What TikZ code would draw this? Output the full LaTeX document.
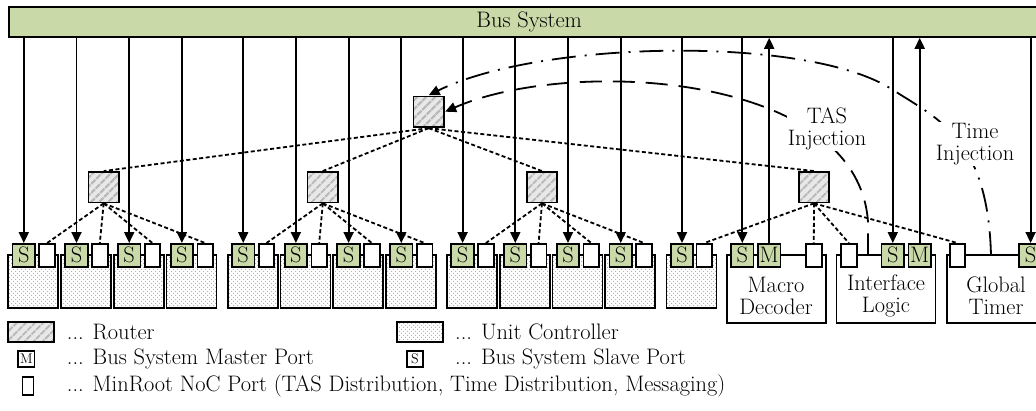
\documentclass[tikz,border=0pt]{standalone}
\usepackage{fontspec}
\usetikzlibrary{arrows.meta,patterns,patterns.meta}
\definecolor{busgreen}{RGB}{201,218,168}

\begin{document}
\begin{tikzpicture}[x=1pt,y=-1pt,
  every node/.style={font=\fontsize{22.4}{21.5}\selectfont},
  ln/.style={line width=1.8pt},
  busbar/.style={ln, draw, fill=busgreen, inner sep=0pt},
  sport/.style={ln, draw, fill=busgreen, minimum width=22.5pt, minimum height=22.7pt, inner sep=0pt},
  nport/.style={ln, draw, fill=white, minimum width=15.6pt, minimum height=22.7pt, inner sep=0pt},
  ucbody/.style={ln, draw, preaction={fill=white},
    preaction={pattern={Dots[distance=4pt,radius=0.75pt,xshift=2pt,yshift=2pt]}, pattern color=gray!65},
    pattern={Dots[distance=4pt,radius=0.75pt]}, pattern color=gray!65, inner sep=0pt},
  spbody/.style={ln, draw, fill=white, minimum width=99pt, minimum height=68pt, inner sep=0pt},
  router/.style={ln, draw, preaction={fill=gray!18},
    pattern={Lines[angle=45,distance=6.5pt,line width=2.4pt]}, pattern color=gray!55,
    inner sep=0pt},
  arr/.style={ln, -{Triangle[length=11pt,width=10pt]}},
  noc/.style={ln, dash pattern=on 4pt off 2.5pt},
  tasline/.style={ln, dash pattern=on 22pt off 11pt, -{Triangle[length=11pt,width=10pt]}},
  timeline/.style={ln, dash pattern=on 24pt off 9pt on 2pt off 9pt, -{Triangle[length=11pt,width=10pt]}},
  lbl/.style={fill=white, inner sep=1pt, align=center},
  legtext/.style={anchor=west, inner sep=0pt},
  legbox/.style={ln, draw, fill=white, inner sep=0pt, font=\fontsize{14}{14}\selectfont}
]
\useasboundingbox (0,0) rectangle (1036,411);
\clip (0,0) rectangle (1036,411);

% bus system bar
\node[busbar, anchor=north west, minimum width=1040pt, minimum height=30pt] (bus) at (8.3,6) {Bus System};

% routers
\node[router, minimum size=30.5pt] (R0) at (428.7,111.7) {};
\node[router, minimum size=30.5pt] (R1) at (103.7,187.2) {};
\node[router, minimum size=30.5pt] (R2) at (322.8,187.2) {};
\node[router, minimum size=30.5pt] (R3) at (542.0,187.2) {};
\node[router, minimum size=30.5pt] (R4) at (814.0,187.2) {};

% unit controllers: three groups of four, one single unit
\foreach \g in {0,1,2} {
  \foreach \u in {0,1,2,3} {
    \pgfmathsetmacro\xo{8.3+219.4*\g+52.7*\u}
    \node[ucbody, minimum width=50pt, minimum height=52.7pt] (U\g\u) at (\xo+25,281.65) {};
    \node[sport] (S\g\u) at (\xo+15.5,255.3) {S};
    \node[nport] (P\g\u) at (\xo+38.8,255.3) {};
  }
}
\node[ucbody, minimum width=50pt, minimum height=52.7pt] (U30) at (691.5,281.65) {};
\node[sport] (S30) at (682.0,255.3) {S};
\node[nport] (P30) at (704.3,255.3) {};

% macro decoder, interface logic, global timer
\node[spbody] (MD) at (776.2,289.3) {};
\node[spbody] (IL) at (886.0,289.3) {};
\node[spbody] (GT) at (996.2,289.3) {};
\node[align=center, inner sep=0pt] (MDt) at (776,296) {Macro\\Decoder};
\node[align=center, inner sep=0pt] (ILt) at (886,296) {Interface\\Logic};
\node[align=center, inner sep=0pt] (GTt) at (996,296) {Global\\Timer};

\node[sport] (SMD) at (742.3,255.3) {S};
\node[sport] (MMD) at (769.2,255.3) {M};
\node[nport] (PMD) at (813.8,255.3) {};
\node[nport] (PIL) at (848.9,255.3) {};
\node[sport] (SIL) at (892.8,255.3) {S};
\node[sport] (MIL) at (919.7,255.3) {M};
\node[nport] (PGT) at (957.5,255.3) {};
\node[sport] (SGT) at (1030.6,255.3) {S};

% bus slave connections
\foreach \s in {S00,S01,S02,S03,S10,S11,S12,S13,S20,S21,S22,S23,S30,SMD,SIL,SGT}
  \draw[arr] (\s.north |- bus.south) -- (\s.north);
% bus master connections
\foreach \m in {MMD,MIL}
  \draw[arr] (\m.north) -- (\m.north |- bus.south);

% NoC tree
\foreach \r in {R1,R2,R3,R4}
  \draw[noc] (R0.south) -- (\r.north);
\foreach \u in {0,1,2,3} {
  \draw[noc] (R1.south) -- (P0\u.north);
  \draw[noc] (R2.south) -- (P1\u.north);
  \draw[noc] (R3.south) -- (P2\u.north);
}
\foreach \p in {P30,PMD,PIL,PGT}
  \draw[noc] (R4.south) -- (\p.north);

% injection paths
\coordinate (tasS) at (868,255.3);
\coordinate (tasM) at (868,222);
\coordinate (timS) at (991,255.3);
\coordinate (timM) at (893,90);
\draw[tasline] (tasS) -- (tasM) .. controls (858,72) and (570,57) .. (R0.east);
\draw[timeline] (timS) .. controls (988,140) and (940,120) .. (timM)
  .. controls (810,35) and (540,40) .. (R0.north);
\node[lbl] (tasL) at (827,129) {TAS\\Injection};
\node[lbl] (timL) at (975,144) {Time\\Injection};

% legend
\node[router, minimum width=46pt, minimum height=20pt] (lgR) at (31.3,332) {};
\node[legtext] (lgRt) at (66.7,332) {... Router};
\node[ucbody, minimum width=46pt, minimum height=20pt] (lgU) at (420,332) {};
\node[legtext] (lgUt) at (455,332) {... Unit Controller};
\node[legbox, minimum size=16.5pt] (lgM) at (26.3,359) {M};
\node[legtext] (lgMt) at (66.7,359) {... Bus System Master Port};
\node[legbox, minimum size=16.5pt] (lgS) at (415,359) {S};
\node[legtext] (lgSt) at (455,359) {... Bus System Slave Port};
\node[legbox, minimum width=11pt, minimum height=18pt] (lgN) at (28,386) {};
\node[legtext] (lgNt) at (66.7,386) {... MinRoot NoC Port (TAS Distribution, Time Distribution, Messaging)};
\end{tikzpicture}
\end{document}
